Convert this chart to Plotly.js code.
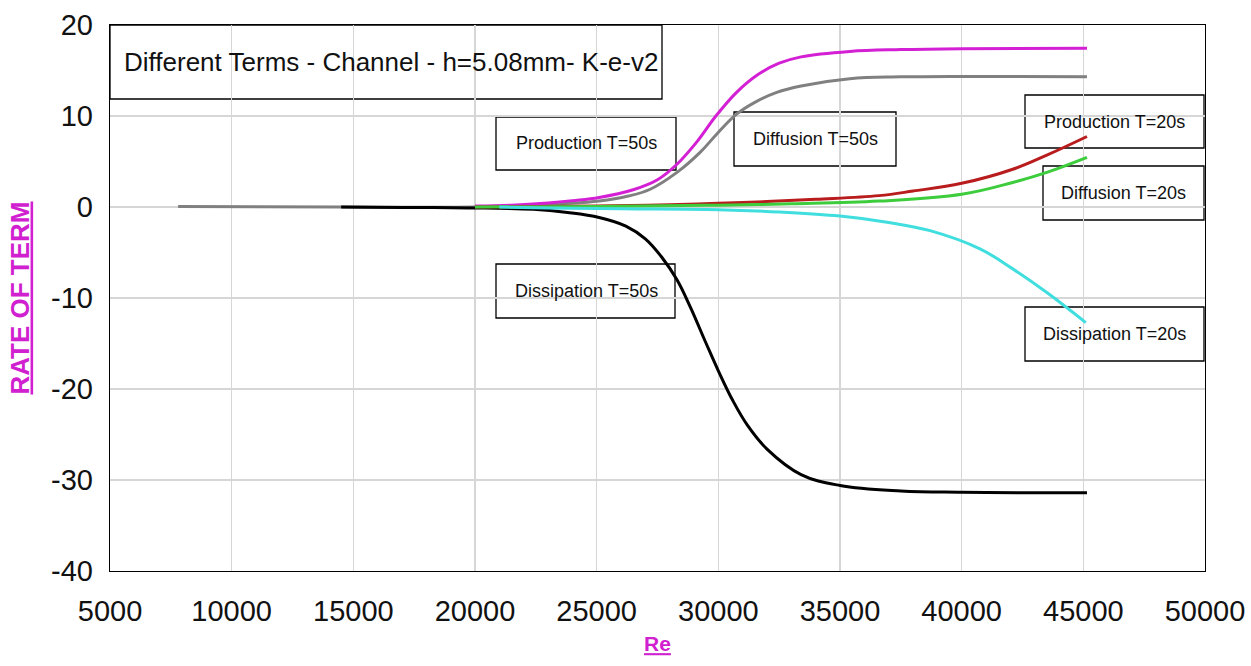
<!DOCTYPE html>
<html>
<head>
<meta charset="utf-8">
<script src="https://cdn.plot.ly/plotly-3.0.1.min.js"></script>
<style>html,body{margin:0;padding:0;background:#fff;}#chart{width:1251px;height:666px;}</style>
</head>
<body>
<div id="chart"></div>
<script>
// Re values and rate-of-term values
const prod50X = [20000, 21500, 23000, 24000, 25100, 26500, 27500, 28300, 29100, 29900, 30750, 31600, 32500, 33400, 35400, 37500, 40000, 45150];
const prod50Y = [0.1, 0.2, 0.45, 0.7, 1.05, 1.9, 3.0, 4.7, 7.1, 10.0, 12.6, 14.5, 15.8, 16.5, 17.1, 17.3, 17.4, 17.45];

const diff50X = [7800, 14500, 20000, 22000, 23500, 25100, 26300, 27200, 28300, 29250, 29930, 30750, 31500, 32400, 33400, 35400, 37500, 40000, 45150];
const diff50Y = [0.05, 0.0, 0.0, 0.15, 0.35, 0.65, 1.2, 1.95, 3.8, 6.0, 8.0, 10.2, 11.5, 12.6, 13.3, 14.1, 14.3, 14.35, 14.3];

const diss50X = [14500, 17000, 19700, 22400, 23800, 25100, 26200, 27000, 27700, 28300, 28850, 29500, 30000, 30600, 31200, 32000, 33400, 35000, 37500, 40000, 45150];
const diss50Y = [0.0, -0.05, -0.1, -0.25, -0.6, -1.15, -2.1, -3.5, -5.6, -8.0, -11.0, -15.0, -18.0, -21.3, -24.0, -26.6, -29.4, -30.6, -31.2, -31.35, -31.4];

const prod20X = [20000, 25000, 28000, 30000, 32000, 34000, 36600, 38000, 40000, 42100, 43500, 45150];
const prod20Y = [0.0, 0.1, 0.25, 0.4, 0.6, 0.85, 1.25, 1.75, 2.6, 4.15, 5.7, 7.75];

const diff20X = [20000, 25000, 30000, 33000, 36600, 40000, 42100, 43500, 45150];
const diff20Y = [0.0, 0.05, 0.2, 0.35, 0.65, 1.4, 2.7, 3.8, 5.45];

const diss20X = [21000, 23000, 26000, 30000, 32500, 35000, 37000, 38700, 40750, 42100, 43500, 45100];
const diss20Y = [0.0, -0.1, -0.2, -0.3, -0.55, -1.0, -1.7, -2.6, -4.6, -6.8, -9.4, -12.7];

const xTickVals = [5000, 10000, 15000, 20000, 25000, 30000, 35000, 40000, 45000, 50000];
const xTickText = ["5000", "10000", "15000", "20000", "25000", "30000", "35000", "40000", "45000", "50000"];
const yTickVals = [20, 10, 0, -10, -20, -30, -40];
const yTickText = ["20", "10", "0", "-10", "-20", "-30", "-40"];

const seriesNames = ["Diffusion T=50s", "Dissipation T=50s", "Production T=50s", "Production T=20s", "Diffusion T=20s", "Dissipation T=20s"];
const chartTitle = "Different Terms - Channel - h=5.08mm- K-e-v2";
const xTitle = "Re";
const yTitle = "RATE OF TERM";

const line = (x, y, name, color) => ({
  x: x, y: y, name: name, type: 'scatter', mode: 'lines',
  line: {color: color, width: 3, shape: 'spline', smoothing: 1.1},
  hoverinfo: 'x+y+name'
});

const traces = [
  line(diff50X, diff50Y, seriesNames[0], '#808080'),
  line(diss50X, diss50Y, seriesNames[1], '#000000'),
  line(prod50X, prod50Y, seriesNames[2], '#d420d4'),
  line(prod20X, prod20Y, seriesNames[3], '#b81c1c'),
  line(diff20X, diff20Y, seriesNames[4], '#3ccc3c'),
  line(diss20X, diss20Y, seriesNames[5], '#40dede')
];

// plot area in pixels: x 110..1205, y 25..571
const PX0 = 110, PW = 1095, PY0 = 25, PH = 546;
const fx = px => (px - PX0) / PW;
const fy = py => (PY0 + PH - py) / PH;

const boxes = [
  {x0: 110, x1: 662, y0: 25, y1: 99, fill: '#ffffff'},
  {x0: 496, x1: 676, y0: 117, y1: 170, fill: 'rgba(0,0,0,0)'},
  {x0: 734, x1: 896, y0: 112, y1: 166, fill: 'rgba(0,0,0,0)'},
  {x0: 1025, x1: 1204, y0: 95, y1: 148, fill: 'rgba(0,0,0,0)'},
  {x0: 1043, x1: 1204, y0: 166, y1: 220, fill: 'rgba(0,0,0,0)'},
  {x0: 496, x1: 675, y0: 264, y1: 318, fill: 'rgba(0,0,0,0)'},
  {x0: 1025, x1: 1204, y0: 307, y1: 361, fill: 'rgba(0,0,0,0)'}
];
const shapes = boxes.map(b => ({
  type: 'rect', xref: 'paper', yref: 'paper', layer: 'below',
  x0: fx(b.x0), x1: fx(b.x1), y0: fy(b.y1), y1: fy(b.y0),
  line: {color: '#000', width: 1.3}, fillcolor: b.fill
}));

const labelFont = {family: 'Liberation Sans, Arial, sans-serif', size: 18, color: '#111'};
const labels = [
  {text: seriesNames[2], cx: 586, cy: 143},
  {text: seriesNames[0], cx: 815, cy: 139},
  {text: seriesNames[3], cx: 1114, cy: 122},
  {text: seriesNames[4], cx: 1123, cy: 193},
  {text: seriesNames[1], cx: 586, cy: 291},
  {text: seriesNames[5], cx: 1114, cy: 334}
];
const annotations = labels.map(l => ({
  text: l.text, xref: 'paper', yref: 'paper', x: fx(l.cx), y: fy(l.cy),
  xanchor: 'center', yanchor: 'middle', showarrow: false, font: labelFont
}));
annotations.push({
  text: chartTitle, xref: 'paper', yref: 'paper', x: fx(122), y: fy(62),
  xanchor: 'left', yanchor: 'middle', showarrow: false,
  font: {family: 'Liberation Sans, Arial, sans-serif', size: 26, color: '#111'}
});

const tickFont = {family: 'Liberation Sans, Arial, sans-serif', size: 29, color: '#111'};

const layout = {
  width: 1251, height: 666,
  margin: {l: 110, r: 46, t: 25, b: 95},
  paper_bgcolor: '#fff', plot_bgcolor: '#fff',
  showlegend: false,
  xaxis: {
    range: [5000, 50000], tickmode: 'array', tickvals: xTickVals, ticktext: xTickText,
    showgrid: true, gridcolor: '#d6d6d6', gridwidth: 1.3,
    zeroline: false, showline: true, linecolor: '#000', linewidth: 1.3, mirror: true,
    ticks: '', tickfont: tickFont, ticklabelstandoff: 14,
    title: {text: xTitle, standoff: 10,
      font: {family: 'Liberation Sans, Arial, sans-serif', size: 21, color: '#d020d0', weight: 'bold', lineposition: 'under'}}
  },
  yaxis: {
    range: [-40, 20], tickmode: 'array', tickvals: yTickVals, ticktext: yTickText,
    showgrid: true, gridcolor: '#d6d6d6', gridwidth: 1.3,
    zeroline: false, showline: true, linecolor: '#000', linewidth: 1.3, mirror: true,
    ticks: '', tickfont: tickFont, ticklabelstandoff: 10,
    title: {text: yTitle, standoff: 14,
      font: {family: 'Liberation Sans, Arial, sans-serif', size: 26, color: '#d020d0', weight: 'bold', lineposition: 'under'}}
  },
  shapes: shapes,
  annotations: annotations
};

Plotly.newPlot('chart', traces, layout, {displayModeBar: false, staticPlot: true});
</script>
</body>
</html>
